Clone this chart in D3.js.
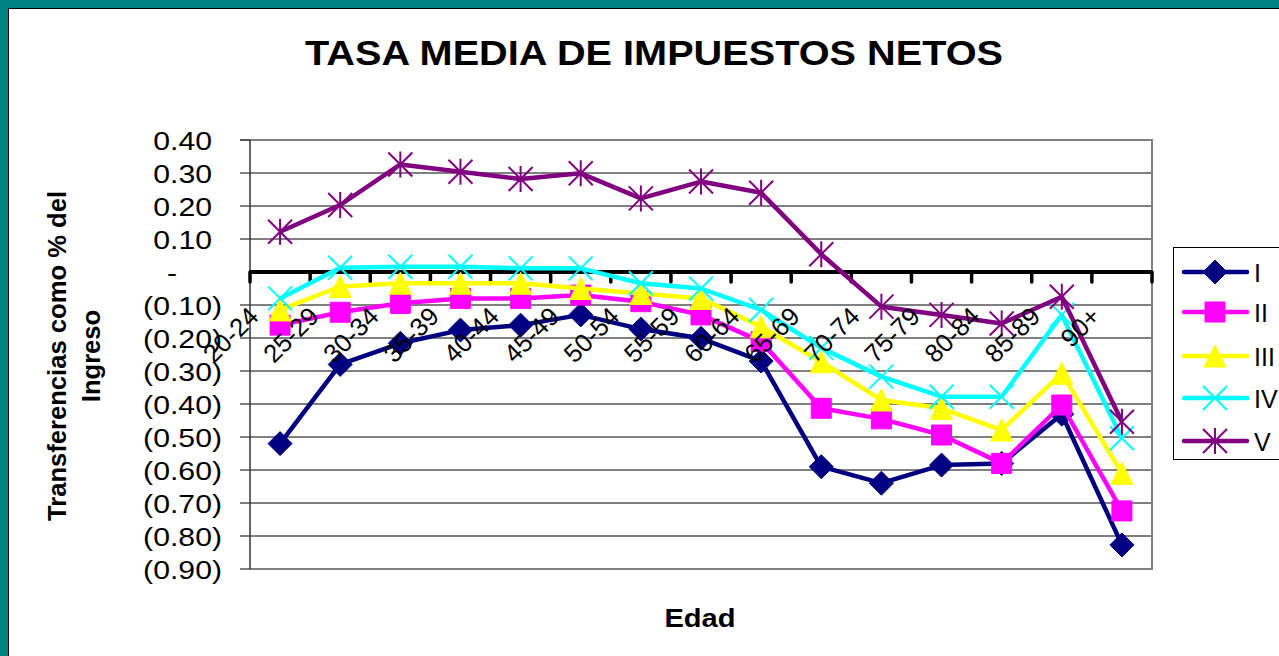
<!DOCTYPE html>
<html><head><meta charset="utf-8">
<script src="https://cdn.jsdelivr.net/npm/d3@7"></script>
<style>html,body{margin:0;padding:0;background:#fff;overflow:hidden}</style>
</head><body>
<svg id="chart" width="1279" height="656"></svg>
<script>
// ---------- DATA ----------
const categories = ["20-24","25-29","30-34","35-39","40-44","45-49","50-54","55-59","60-64","65-69","70-74","75-79","80-84","85-89","90+"];
const seriesNames = ["I","II","III","IV","V"];
const serieI   = [-0.52,-0.28,-0.216,-0.176,-0.161,-0.13,-0.173,-0.201,-0.27,-0.59,-0.64,-0.585,-0.58,-0.431,-0.827];
const serieII  = [-0.161,-0.122,-0.095,-0.08,-0.08,-0.07,-0.09,-0.13,-0.211,-0.413,-0.445,-0.494,-0.58,-0.403,-0.724];
const serieIII = [-0.115,-0.044,-0.034,-0.034,-0.034,-0.05,-0.065,-0.08,-0.166,-0.272,-0.388,-0.413,-0.479,-0.307,-0.61];
const serieIV  = [-0.08,0.013,0.016,0.016,0.011,0.011,-0.034,-0.05,-0.115,-0.23,-0.317,-0.378,-0.378,-0.13,-0.504];
const serieV   = [0.122,0.203,0.326,0.304,0.282,0.299,0.223,0.274,0.24,0.054,-0.105,-0.13,-0.156,-0.075,-0.454];
const yTickValues = [0.4,0.3,0.2,0.1,0,-0.1,-0.2,-0.3,-0.4,-0.5,-0.6,-0.7,-0.8,-0.9];
const yTickLabels = ["0.40","0.30","0.20","0.10","-","(0.10)","(0.20)","(0.30)","(0.40)","(0.50)","(0.60)","(0.70)","(0.80)","(0.90)"];
const chartTitle = "TASA MEDIA DE IMPUESTOS NETOS";
const yTitleLines = ["Transferencias como % del","Ingreso"];
const xTitle = "Edad";

// ---------- STYLE ----------
const colors = ["#000080","#FF00FF","#FFFF00","#00FFFF","#800080"];
const markers = ["diamond","square","triangle","x","star"];
const FONT = "'Liberation Sans', Arial, sans-serif";

const svg = d3.select("#chart");
const W = 1279, H = 656;
const plot = {left:250, right:1152, top:140, bottom:569};

// frame
svg.append("rect").attr("x",0).attr("y",0).attr("width",W).attr("height",H).attr("fill","#008080");
svg.append("rect").attr("x",8).attr("y",8).attr("width",W).attr("height",H).attr("fill","#fff");
svg.append("line").attr("x1",8).attr("x2",W).attr("y1",8.5).attr("y2",8.5).attr("stroke","#000");
svg.append("line").attr("x1",8.5).attr("x2",8.5).attr("y1",8).attr("y2",H).attr("stroke","#000");

const x = d3.scaleBand().domain(categories).range([plot.left, plot.right]).paddingInner(0).paddingOuter(0);
const y = d3.scaleLinear().domain([-0.9,0.4]).range([plot.bottom, plot.top]);
const cx = c => x(c) + x.bandwidth()/2;

// gridlines
svg.append("g").selectAll("line").data(yTickValues.filter(v=>v!==0)).join("line")
  .attr("x1",plot.left-10).attr("x2",plot.right).attr("y1",d=>y(d)).attr("y2",d=>y(d))
  .attr("stroke","#000").attr("stroke-width",1);

// plot border
svg.append("path").attr("d",`M${plot.left},${plot.top}H${plot.right}V${plot.bottom}H${plot.left}`)
  .attr("fill","none").attr("stroke","#808080").attr("stroke-width",2);
// y axis line
svg.append("line").attr("x1",plot.left).attr("x2",plot.left).attr("y1",plot.top).attr("y2",plot.bottom)
  .attr("stroke","#333").attr("stroke-width",1.5);
svg.append("line").attr("x1",plot.left-10).attr("x2",plot.left).attr("y1",plot.top).attr("y2",plot.top)
  .attr("stroke","#333").attr("stroke-width",1);

// y tick labels
function stretchedText(g, txt, tx, ty, sx, opts) {
  const t = g.append("text").attr("transform",`translate(${tx},${ty}) scale(${sx},1)`)
    .attr("font-family",FONT).attr("font-size",opts.size).attr("font-weight",opts.weight||"normal")
    .attr("text-anchor",opts.anchor||"start").attr("fill","#000").text(txt);
  return t;
}
const yl = svg.append("g");
yTickValues.forEach((v,i)=>{
  const rx = v>0 ? 212 : (v<0 ? 222 : 177);
  stretchedText(yl, yTickLabels[i], rx, y(v)+9.5, 1.18, {size:25.6, anchor:"end"});
});

// zero axis with ticks
const zy = y(0);
const boundaries = d3.range(categories.length+1).map(i => plot.left + i*x.bandwidth());
svg.append("line").attr("x1",plot.left).attr("x2",plot.right).attr("y1",zy).attr("y2",zy)
  .attr("stroke","#000").attr("stroke-width",4);
svg.append("g").selectAll("line").data(boundaries).join("line")
  .attr("x1",d=>d).attr("x2",d=>d).attr("y1",zy).attr("y2",zy+10)
  .attr("stroke","#000").attr("stroke-width",3.5).attr("stroke-linecap","round");

// markers
function markerPath(type){
  switch(type){
    case "diamond": return "M0,-12L12,0L0,12L-12,0Z";
    case "square": return "M-10,-10H10V10H-10Z";
    case "triangle": return "M0,-11L11,11H-11Z";
    case "x": return "M-12,-12L12,12M12,-12L-12,12";
    case "star": return "M-12,-12L12,12M12,-12L-12,12M0,-13V13";
  }
}
function drawMarker(g, type, color, px, py){
  const filled = ["diamond","square","triangle"].includes(type);
  g.append("path").attr("transform",`translate(${px},${py})`).attr("d",markerPath(type))
    .attr("fill",filled?color:"none").attr("stroke",color).attr("stroke-width",filled?1:2);
}

const allSeries = [serieI, serieII, serieIII, serieIV, serieV];
const line = d3.line().x((d,i)=>cx(categories[i])).y(d=>y(d));
allSeries.forEach((vals,si)=>{
  const g = svg.append("g");
  g.append("path").attr("d",line(vals)).attr("fill","none").attr("stroke",colors[si])
    .attr("stroke-width",4.5).attr("stroke-linejoin","round");
  vals.forEach((v,i)=> drawMarker(g, markers[si], colors[si], cx(categories[i]), y(v)));
});

// category labels (drawn over the series, as in the reference)
svg.append("g").selectAll("text").data(categories).join("text")
  .attr("transform",d=>`translate(${cx(d)-20},${zy+46}) rotate(-45)`)
  .attr("text-anchor","end").attr("font-family",FONT).attr("font-size",25.6).attr("fill","#000")
  .text(d=>d);

// title
svg.append("text").attr("x",654).attr("y",65).attr("text-anchor","middle")
  .attr("font-family",FONT).attr("font-weight","bold").attr("font-size",35.5)
  .attr("textLength",698).attr("lengthAdjust","spacingAndGlyphs").text(chartTitle);

// y title
const yt = svg.append("g");
[66, 100].forEach((bx,i)=>{
  yt.append("text").attr("transform",`translate(${bx},356) rotate(-90)`).attr("text-anchor","middle")
    .attr("font-family",FONT).attr("font-weight","bold").attr("font-size",25.6).text(yTitleLines[i]);
});

// x title
stretchedText(svg, xTitle, 700, 627, 1.12, {size:26, weight:"bold", anchor:"middle"});

// legend
const lg = svg.append("g");
lg.append("rect").attr("x",1173.5).attr("y",247.5).attr("width",200).attr("height",212)
  .attr("fill","#fff").attr("stroke","#000").attr("stroke-width",1);
const legendY = [272, 312, 356, 398, 441];
seriesNames.forEach((n,i)=>{
  lg.append("line").attr("x1",1184).attr("x2",1247).attr("y1",legendY[i]).attr("y2",legendY[i])
    .attr("stroke",colors[i]).attr("stroke-width",4.5).attr("stroke-linecap","round");
  drawMarker(lg, markers[i], colors[i], 1215, legendY[i]);
  stretchedText(lg, n, 1254, legendY[i]+9.5, 1.0, {size:25});
});
</script>
</body></html>
